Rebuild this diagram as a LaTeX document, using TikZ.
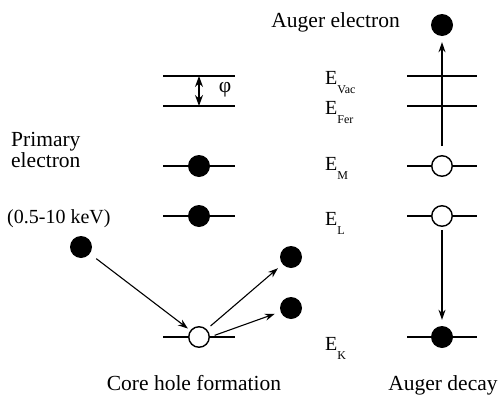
\documentclass[tikz,border=0pt]{standalone}
\usepackage{fontspec}
\setmainfont{Liberation Serif}
\usetikzlibrary{arrows.meta}
\tikzset{
  elec/.style={circle,fill=black,inner sep=0pt,minimum size=22pt},
  hole/.style={circle,draw=black,line width=1.4pt,fill=white,inner sep=0pt,minimum size=20.5pt},
  lvl/.style={line width=1.3pt},
  arr/.style={line width=1.1pt,-{Stealth[length=10pt,width=7pt]}},
  lbl/.style={font=\fontsize{21.5}{21}\selectfont,inner sep=0pt},
}
\newcommand{\Elab}[1]{E\raisebox{-1.0ex}{\fontsize{12}{12}\selectfont #1}}
\begin{document}
\begin{tikzpicture}[x=1pt,y=-1pt]
	\useasboundingbox (0,0) rectangle (501,394);
	% energy levels
	\foreach \y in {76,106,166,216,337}{\draw[lvl] (163,\y)--(235,\y);}
	\foreach \y in {76,106,166,216,337}{\draw[lvl] (407,\y)--(477,\y);}
	% core hole formation
	\node[elec] (lM) at (199,166) {};
	\node[elec] (lL) at (199,216) {};
	\node[hole] (lK) at (199,337) {};
	\node[elec] (prim) at (81,247) {};
	\node[elec] (outA) at (291,257) {};
	\node[elec] (outB) at (291,308) {};
	\draw[arr,shorten <=8pt,shorten >=3pt] (prim)--(lK);
	\draw[arr,shorten <=5pt,shorten >=6pt] (lK.north east)--(outA);
	\draw[arr,shorten <=5pt,shorten >=6pt] (lK.east)--(outB);
	\coordinate (pTop) at (199,76);
	\coordinate (pBot) at (199,106);
	\draw[line width=1.1pt,{Stealth[length=11pt,width=8pt]}-{Stealth[length=11pt,width=8pt]}] (pTop)--(pBot);
	\node[lbl] (phi) at (225,90) {φ};
	% Auger decay
	\node[hole] (rM) at (442,166) {};
	\node[hole] (rL) at (442,216) {};
	\node[elec] (rK) at (442,337) {};
	\node[elec] (aug) at (442,25) {};
	\draw[arr,shorten <=9pt,shorten >=6pt] (rM)--(aug);
	\draw[arr,shorten <=3pt,shorten >=6pt] (rL)--(rK);
	% labels
	\node[lbl,anchor=base east] (augT) at (400,27) {Auger electron};
	\node[lbl,font=\fontsize{20}{20}\selectfont,anchor=base west] (eVac) at (325,84) {\Elab{Vac}};
	\node[lbl,font=\fontsize{20}{20}\selectfont,anchor=base west] (eFer) at (325,114) {\Elab{Fer}};
	\node[lbl,font=\fontsize{20}{20}\selectfont,anchor=base west] (eM) at (325,170) {\Elab{M}};
	\node[lbl,font=\fontsize{20}{20}\selectfont,anchor=base west] (eL) at (325,225) {\Elab{L}};
	\node[lbl,font=\fontsize{20}{20}\selectfont,anchor=base west] (eK) at (325,350) {\Elab{K}};
	\node[lbl,anchor=base west,align=left] (primT) at (11,167) {Primary\\electron};
	\node[lbl,font=\fontsize{20}{20}\selectfont,anchor=base west] (keV) at (7,223) {(0.5-10 keV)};
	\node[lbl,anchor=base] (coreT) at (194,390) {Core hole formation};
	\node[lbl,anchor=base] (decT) at (443,390) {Auger decay};
\end{tikzpicture}
\end{document}
